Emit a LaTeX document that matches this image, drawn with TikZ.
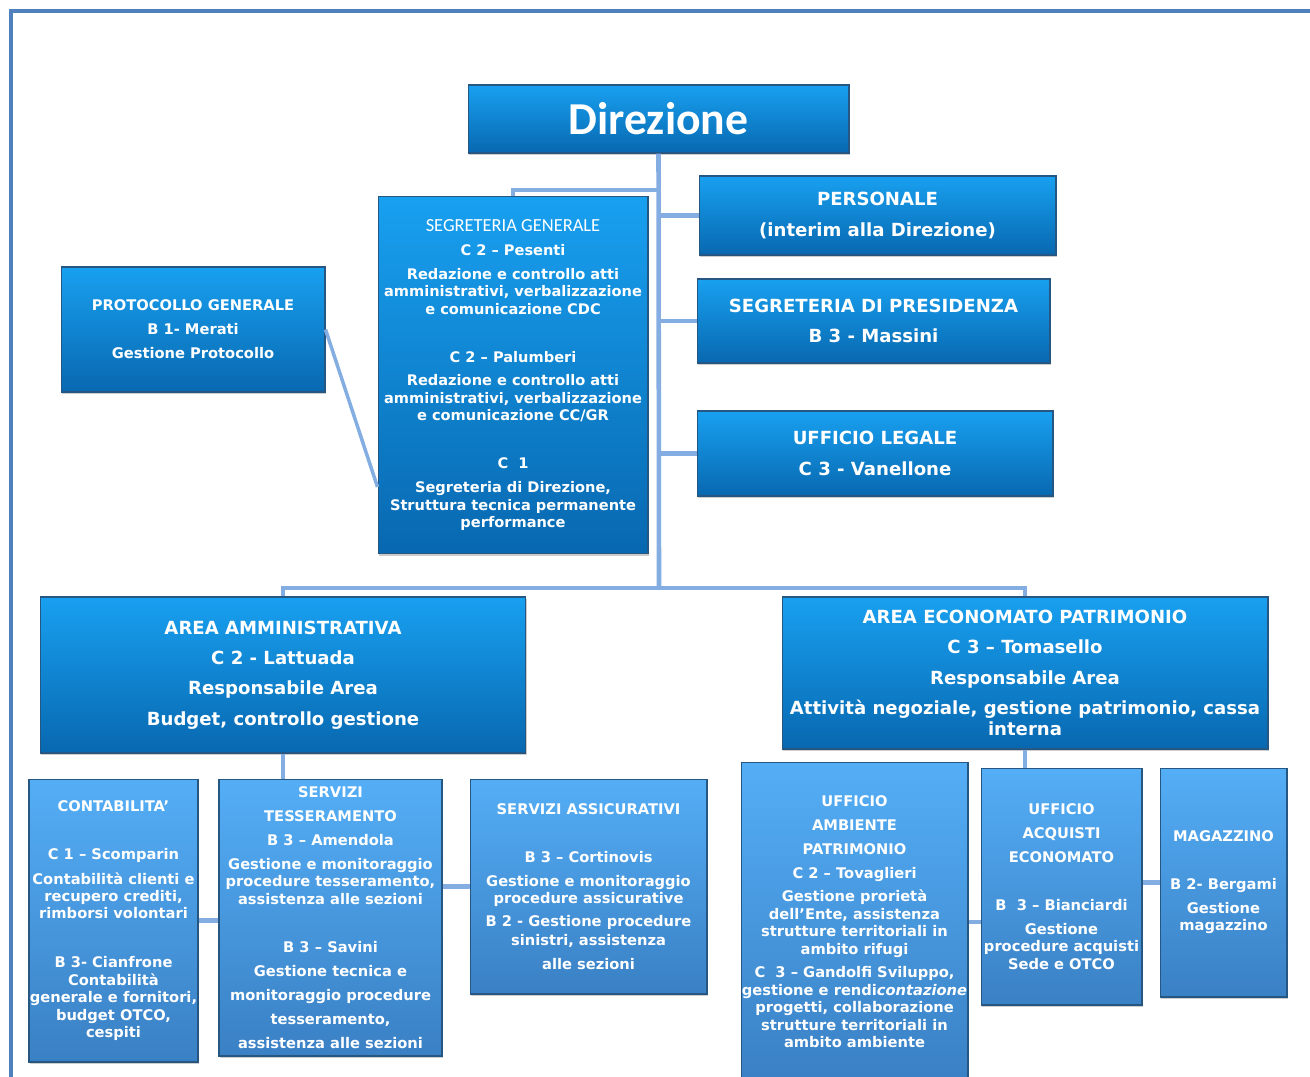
\documentclass[tikz,border=0pt]{standalone}
\usepackage{fontspec}
\setmainfont{DejaVu Sans}
\newfontfamily\carlito{Carlito}
\usetikzlibrary{shadows}
\definecolor{boxtop}{RGB}{24,160,240}
\definecolor{boxbot}{RGB}{8,104,176}
\definecolor{paletop}{RGB}{84,174,246}
\definecolor{palebot}{RGB}{58,128,196}
\definecolor{boxrim}{RGB}{38,86,130}
\definecolor{linkblue}{RGB}{132,174,226}
\definecolor{frameblue}{RGB}{79,129,189}

% gaps between text lines (24px and 48px rows)
\newcommand{\sgap}{\\[3.7pt]}
\newcommand{\lgap}{\\[17.3pt]}

\begin{document}
\begin{tikzpicture}[
    x=0.02cm,
    y=-0.02cm,
    topbox/.style={rectangle,draw=boxrim,line width=0.6pt,top color=boxtop,bottom color=boxbot,
      text=white,align=center,inner sep=0pt,
      drop shadow={shadow xshift=0.8pt,shadow yshift=-1.2pt,opacity=0.4}},
    subbox/.style={topbox,top color=paletop,bottom color=palebot},
    bigtext/.style={font=\bfseries\fontsize{10.3}{17.3}\selectfont},
    smalltext/.style={font=\bfseries\fontsize{8.35}{9.93}\selectfont},
    link/.style={draw=linkblue,line width=2.6pt},
    frameline/.style={draw=frameblue,line width=2.3pt}
]
  \useasboundingbox (0,0) rectangle (1310,1077);
  \draw[frameline] (11,1077) -- (11,11) -- (1310,11);

  % top level
  \node[topbox,minimum width=7.62cm,minimum height=1.36cm,
    font=\carlito\bfseries\fontsize{26}{30}\selectfont] (dir) at (658.5,119) {Direzione};
  \node[topbox,bigtext,minimum width=7.14cm,minimum height=1.58cm] (pers) at (877.5,215.5)
    {PERSONALE\\(interim alla Direzione)};
  \node[topbox,bigtext,minimum width=7.06cm,minimum height=1.68cm] (pres) at (873.5,321)
    {SEGRETERIA DI PRESIDENZA\\B 3 - Massini};
  \node[topbox,bigtext,minimum width=7.12cm,minimum height=1.70cm] (legale) at (875,453.5)
    {UFFICIO LEGALE\\C 3 - Vanellone};
  \node[topbox,font=\bfseries\fontsize{8.3}{9.93}\selectfont,minimum width=5.4cm,minimum height=7.16cm]
    (seggen) at (513,375)
    {{\carlito\mdseries\fontsize{10.5}{9.93}\selectfont SEGRETERIA GENERALE}\sgap
     C 2 – Pesenti\sgap
     Redazione e controllo atti\\amministrativi, verbalizzazione\\e comunicazione CDC\lgap
     C 2 – Palumberi\sgap
     Redazione e controllo atti\\amministrativi, verbalizzazione\\e comunicazione CC/GR\lgap
     C\ \ 1\sgap
     Segreteria di Direzione,\\Struttura tecnica permanente\\performance};
  \node[topbox,smalltext,minimum width=5.28cm,minimum height=2.5cm] (proto) at (193,329.5)
    {PROTOCOLLO GENERALE\sgap B 1- Merati\sgap Gestione Protocollo};

  % areas
  \node[topbox,bigtext,minimum width=9.72cm,minimum height=3.12cm] (amm) at (283,675)
    {AREA AMMINISTRATIVA\\C 2 - Lattuada\\Responsabile Area\\Budget, controllo gestione};
  \node[topbox,bigtext,minimum width=9.72cm,minimum height=3.04cm] (econ) at (1025,673)
    {AREA ECONOMATO PATRIMONIO\\C 3 – Tomasello\\Responsabile Area\\
     Attività negoziale, gestione patrimonio, cassa\\[-5.1pt]interna};

  % offices
  \node[subbox,smalltext,minimum width=3.38cm,minimum height=5.66cm] (cont) at (113.5,920.5)
    {CONTABILITA’\lgap
     C 1 – Scomparin\\[4.3pt]
     Contabilità clienti e\\recupero crediti,\\rimborsi volontari\\[17.9pt]
     B 3- Cianfrone\\Contabilità\\generale e fornitori,\\budget OTCO,\\cespiti};
  \node[subbox,smalltext,minimum width=4.46cm,minimum height=5.54cm] (tess) at (330.5,917.5)
    {SERVIZI\sgap TESSERAMENTO\sgap B 3 – Amendola\sgap
     Gestione e monitoraggio\\procedure tesseramento,\\assistenza alle sezioni\lgap
     B 3 – Savini\sgap Gestione tecnica e\sgap monitoraggio procedure\sgap
     tesseramento,\sgap assistenza alle sezioni};
  \node[subbox,smalltext,minimum width=4.74cm,minimum height=4.30cm] (assic) at (588.5,886.5)
    {SERVIZI ASSICURATIVI\lgap
     B 3 – Cortinovis\sgap
     Gestione e monitoraggio\\procedure assicurative\\[3.1pt]
     B 2 - Gestione procedure\\[1pt]sinistri, assistenza\sgap alle sezioni};
  \node[subbox,smalltext,minimum width=4.54cm,minimum height=6.40cm] (amb) at (854.5,922)
    {UFFICIO\sgap AMBIENTE\sgap PATRIMONIO\sgap C 2 – Tovaglieri\\[3.1pt]
     Gestione prorietà\\dell’Ente, assistenza\\strutture territoriali in\\ambito rifugi\sgap
     C\ \ 3 – Gandolfi Sviluppo,\\gestione e rendi\textit{contazione}\\
     progetti, collaborazione\\strutture territoriali in\\ambito ambiente};
  \node[subbox,smalltext,minimum width=3.22cm,minimum height=4.74cm] (acq) at (1061.5,886.5)
    {UFFICIO\sgap ACQUISTI\sgap ECONOMATO\lgap
     B\ \ 3 – Bianciardi\sgap Gestione\\procedure acquisti\\Sede e OTCO};
  \node[subbox,smalltext,minimum width=2.54cm,minimum height=4.58cm] (mag) at (1223.5,882.5)
    {MAGAZZINO\lgap B 2- Bergami\sgap Gestione\\magazzino};

  % connectors
  \coordinate (bus) at (659,588);
  \coordinate (segjoin) at (659,190);
  \draw[link] (dir.south) -- (bus);
  \draw[link] (amm.north) |- (bus) -| (econ.north);
  \draw[link] (seggen.north) |- (segjoin);
  \draw[link] (pers.west) -- (pers.west -| dir.south);
  \draw[link] (pres.west) -- (pres.west -| dir.south);
  \draw[link] (legale.west) -- (legale.west -| dir.south);
  \draw[link,line width=2pt] (proto.east) -- ([yshift=-2.24cm]seggen.west);
  \draw[link] (amm.south) -- (amm.south |- tess.north);
  \draw[link] (cont.east) -- (cont.east -| tess.west);
  \draw[link] (assic.west) -- (assic.west -| tess.east);
  \draw[link] (econ.south) -- (econ.south |- acq.north);
  \draw[link] (amb.east) -- (amb.east -| acq.west);
  \draw[link] (mag.west) -- (mag.west -| acq.east);
\end{tikzpicture}
\end{document}
